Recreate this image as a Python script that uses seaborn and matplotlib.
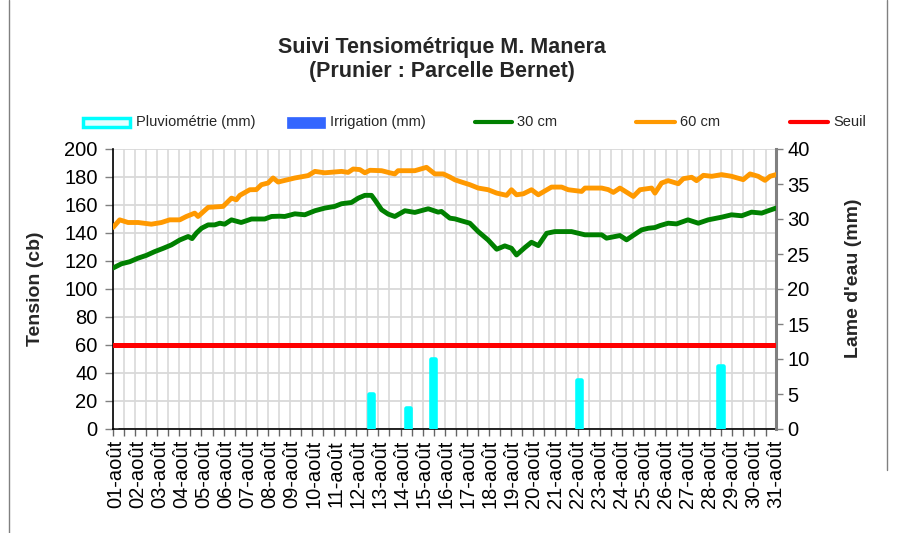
import numpy as np
import pandas as pd
import matplotlib
matplotlib.use("Agg")
import matplotlib.pyplot as plt
import seaborn as sns
from matplotlib.lines import Line2D
from matplotlib.patches import Rectangle

# ---------------- data ----------------
days = list(range(1, 32))
day_labels = [f"{d:02d}-août" for d in days]

# 30 cm tensiometer (cb)
t30 = [0.88, 1.26, 1.64, 2.01, 2.39, 2.77, 3.15, 3.53, 3.91, 4.29, 4.47, 4.67, 4.9, 5.2, 5.5,
       5.73, 5.95, 6.26, 6.7, 7.17, 7.77, 8.08, 8.45, 8.68, 9.14, 9.59, 10.05, 10.5, 10.95,
       11.26, 11.71, 12.02, 12.32, 12.62, 12.77, 13.08, 13.38, 13.68, 14.14, 14.59, 15.2,
       15.65, 15.8, 16.18, 16.41, 16.71, 17.09, 17.47, 17.92, 18.31, 18.68, 18.98, 19.21,
       19.59, 19.89, 20.2, 20.58, 20.95, 21.71, 22.32, 23.08, 23.3, 23.91, 24.21, 24.59,
       24.89, 25.2, 25.5, 25.73, 26.1, 26.48, 27.0, 27.47, 27.92, 28.53, 28.98, 29.44,
       29.89, 30.35, 30.65, 31.0]
v30 = [115, 118, 119.5, 122, 124, 126.7, 129, 131.5, 135, 137.5, 136, 140, 143.4, 145.8, 145.8,
       147, 146.3, 149.4, 147.5, 150, 150, 151.8, 152, 151.8, 153.7, 153, 155.9, 157.8, 159,
       160.9, 161.8, 164.9, 166.9, 166.9, 163.7, 156.6, 153.5, 151.8, 155.9, 154.7, 157.3,
       154.9, 155.4, 150.6, 150.1, 148.7, 147, 141, 135, 128.4, 130.8, 129.1, 124.3,
       129.6, 133.4, 131, 139.8, 141, 141, 138.7, 138.7, 136.3, 138.2, 135.1, 139.1,
       142.2, 143.4, 143.9, 145.3, 147, 146.5, 149.4, 147, 149.4, 151.3, 153, 152.3,
       154.9, 154.2, 155.9, 157.8]

# 60 cm tensiometer (cb)
t60 = [0.88, 1.18, 1.56, 2.02, 2.62, 3.08, 3.45, 3.91, 4.21, 4.59, 4.74, 5.2, 5.88, 6.26, 6.48,
       6.64, 7.09, 7.39, 7.62, 7.92, 8.15, 8.38, 8.53, 9.14, 9.74, 10.05, 10.5, 11.26, 11.56,
       11.79, 12.09, 12.32, 12.55, 13.08, 13.45, 13.68, 13.83, 14.59, 15.12, 15.5, 15.88,
       16.18, 16.41, 16.71, 17.09, 17.47, 17.92, 18.31, 18.76, 18.98, 19.21, 19.52, 19.89,
       20.2, 20.8, 21.26, 21.56, 22.17, 22.32, 23.08, 23.38, 23.61, 23.91, 24.52, 24.82,
       25.35, 25.5, 25.8, 26.1, 26.56, 26.79, 27.17, 27.39, 27.7, 28.08, 28.53, 28.98,
       29.51, 29.82, 30.19, 30.5, 30.73, 31.0]
v60 = [144, 149.4, 147.5, 147.5, 146.3, 147.5, 149.4, 149.4, 151.8, 154.2, 151.8, 158.3, 159, 164.9, 163.7,
       166.9, 170.9, 171, 174.5, 175.7, 179.3, 176.4, 177, 179.3, 181, 184, 183, 184, 183.3,
       185.7, 185.3, 183, 184.8, 184.5, 183, 182.2, 184.5, 184.5, 186.9, 182.2, 182.2,
       180, 178, 176.4, 174.5, 172.1, 170.9, 168.5, 166.9, 170.9, 167.3, 168, 170.9,
       167.3, 172.8, 172.8, 170.9, 169.7, 172.1, 172.1, 171, 169, 172.1, 166.1, 170.9,
       172.1, 168.5, 175.7, 177.4, 175.2, 178.8, 179.8, 177.4, 181.2, 180.5, 181.7, 180.5,
       178.1, 182.2, 180.5, 177.6, 180.5, 181.7]

# rainfall (mm) and irrigation (mm)
rain_days = [12.59, 14.27, 15.41, 22.05, 28.48]
rain_mm = [5, 3, 10, 7, 9]
irrig_days = [1]
irrig_mm = [0]

SEUIL = 60

# ---------------- style ----------------
sns.set_theme(style="white")
plt.rcParams['font.family'] = ['Liberation Sans', 'DejaVu Sans']

W, H = 899, 533
fig = plt.figure(figsize=(W / 100, H / 100), dpi=100)
fig.patch.set_facecolor("white")

L, R, T, B = 113, 776, 149, 429
ax = fig.add_axes([L / W, 1 - B / H, (R - L) / W, (B - T) / H])
ax2 = ax.twinx()

C30, C60, CSEUIL, CRAIN, CIRR = "#008000", "#FF9900", "#FF0000", "#00FFFF", "#3366FF"

# grid
ax.set_ylim(0, 200)
ax.set_yticks(np.arange(0, 201, 20))
ax.yaxis.grid(True, color="#d9d9d9", lw=1.3)
XMIN, XMAX = 0.877, 31.0
ax.set_xlim(XMIN, XMAX)
ax.set_xticks(days)
ax.set_xticklabels(day_labels, rotation=90, fontsize=14.5)
ax.set_xticks(np.arange(XMIN, XMAX + 0.01, 0.5025), minor=True)
ax.xaxis.grid(True, which="minor", color="#d9d9d9", lw=1.2)
ax.xaxis.grid(False, which="major")
ax.set_axisbelow(True)

# bars (right axis)
ax2.set_ylim(0, 40)
ax2.set_yticks(np.arange(0, 41, 5))
ax2.bar(rain_days, rain_mm, width=0.2, color=CRAIN, edgecolor=CRAIN, linewidth=3.3,
        joinstyle="round", zorder=2)
ax2.bar(irrig_days, irrig_mm, width=0.2, color=CIRR, zorder=2)

# lines
df30 = pd.DataFrame({"jour": t30, "tension": v30})
df60 = pd.DataFrame({"jour": t60, "tension": v60})
sns.lineplot(data=df60, x="jour", y="tension", ax=ax2, color=C60, lw=3.5, sort=False,
             solid_joinstyle="round", solid_capstyle="round", zorder=4,
             transform=ax.transData)
sns.lineplot(data=df30, x="jour", y="tension", ax=ax2, color=C30, lw=3.5, sort=False,
             solid_joinstyle="round", solid_capstyle="round", zorder=4,
             transform=ax.transData)
ax2.axhline(SEUIL / 5.0, color=CSEUIL, lw=3.6, zorder=3)
ax2.set_xlim(XMIN, XMAX)

# spines / ticks
for s in ["top", "right"]:
    ax.spines[s].set_visible(False)
for s in ["top", "left", "bottom"]:
    ax2.spines[s].set_visible(False)
ax.spines["left"].set_color("black")
ax.spines["left"].set_linewidth(1.2)
ax.spines["bottom"].set_color("black")
ax.spines["bottom"].set_linewidth(1.2)
ax2.spines["right"].set_color("#808080")
ax2.spines["right"].set_linewidth(2.2)

ax.tick_params(axis="y", which="both", left=True, direction="out", length=6, width=1,
               color="#808080", labelsize=14.5, labelcolor="black", pad=5)
ax.tick_params(axis="x", which="major", bottom=True, length=0, pad=8, labelcolor="black")
ax.tick_params(axis="x", which="minor", bottom=True, direction="out", length=5, width=1,
               color="#666666")
ax2.tick_params(axis="y", right=True, direction="out", length=5, width=1,
                color="#808080", labelsize=14.5, labelcolor="black", pad=3)

ax.set_xlabel("")
ax2.set_xlabel("")
ax.set_ylabel("Tension (cb)", fontsize=14, fontweight="bold")
ax.yaxis.set_label_coords(-0.104, 0.5)
ax2.set_ylabel("Lame d'eau (mm)", fontsize=14, fontweight="bold", rotation=90)
ax2.yaxis.set_label_coords(1.104, 0.54)

# title
fig.text(442 / W, 1 - 47 / H, "Suivi Tensiométrique M. Manera", ha="center", va="center",
         fontsize=15.5, fontweight="bold")
fig.text(442 / W, 1 - 72 / H, "(Prunier : Parcelle Bernet)", ha="center", va="center",
         fontsize=15.5, fontweight="bold")

# legend (manual)
ly = 1 - 122 / H
def fx(px):
    return px / W
def fy(py):
    return 1 - py / H

fig.add_artist(Rectangle((fx(83), fy(127)), (130 - 83) / W, 9 / H, transform=fig.transFigure,
                         facecolor="#e6ffff", edgecolor=CRAIN, lw=2.5))
fig.text(fx(136), ly, "Pluviométrie (mm)", ha="left", va="center", fontsize=10.5)
fig.add_artist(Rectangle((fx(287), fy(128)), (325 - 287) / W, 11 / H, transform=fig.transFigure,
                         facecolor=CIRR, edgecolor=CIRR, lw=0.5))
fig.text(fx(330), ly, "Irrigation (mm)", ha="left", va="center", fontsize=10.5)
for x0, x1, c, lab in [(475, 512, C30, "30 cm"), (636, 675, C60, "60 cm"), (790, 828, CSEUIL, "Seuil")]:
    fig.add_artist(Line2D([fx(x0), fx(x1)], [ly, ly], transform=fig.transFigure, color=c, lw=3,
                          solid_capstyle="round"))
    fig.text(fx(x1 + 5), ly, lab, ha="left", va="center", fontsize=10.5)

# outer frame
fig.add_artist(Line2D([fx(9), fx(9)], [0, 1], transform=fig.transFigure, color="#808080", lw=1))
fig.add_artist(Line2D([fx(887), fx(887)], [fy(470), 1], transform=fig.transFigure, color="#808080", lw=1))

fig.savefig("out.png", dpi=100)
